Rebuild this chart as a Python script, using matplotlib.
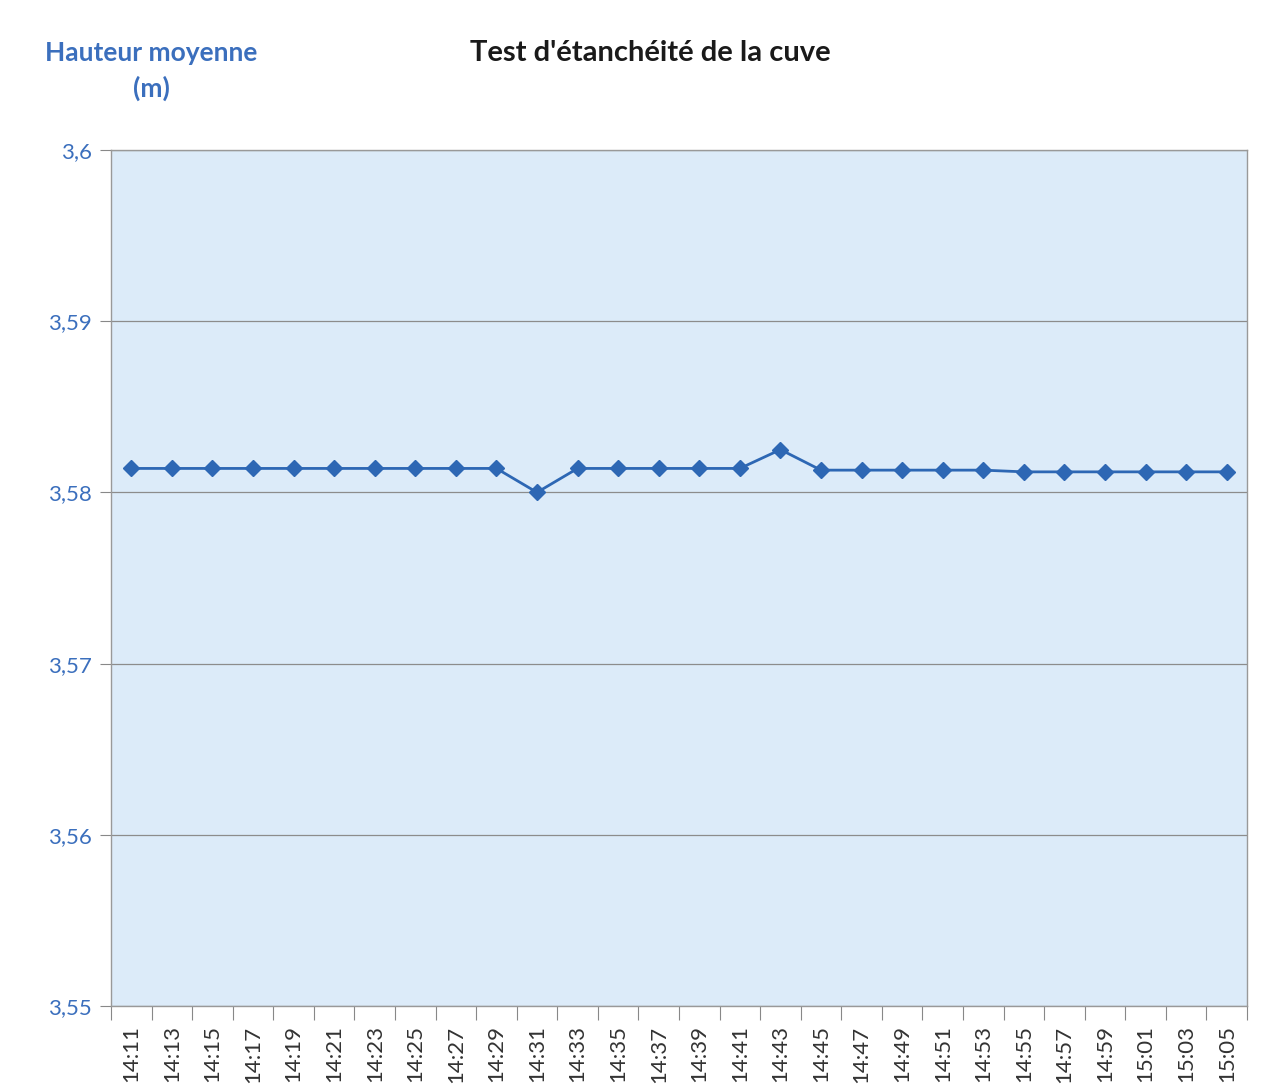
import matplotlib.pyplot as plt
import numpy as np

plt.rcParams['font.family'] = ['Lato', 'DejaVu Sans']

# relevés toutes les 2 minutes
heures = ['14:11', '14:13', '14:15', '14:17', '14:19', '14:21', '14:23', '14:25',
          '14:27', '14:29', '14:31', '14:33', '14:35', '14:37', '14:39', '14:41',
          '14:43', '14:45', '14:47', '14:49', '14:51', '14:53', '14:55', '14:57',
          '14:59', '15:01', '15:03', '15:05']
hauteur = [3.5814, 3.5814, 3.5814, 3.5814, 3.5814, 3.5814, 3.5814, 3.5814,
           3.5814, 3.5814, 3.5800, 3.5814, 3.5814, 3.5814, 3.5814, 3.5814,
           3.5825, 3.5813, 3.5813, 3.5813, 3.5813, 3.5813, 3.5812, 3.5812,
           3.5812, 3.5812, 3.5812, 3.5812]

bleu = '#2d67b4'
fig = plt.figure(figsize=(12.69, 10.87), dpi=100)
ax = fig.add_axes([111/1269, 1 - 1006/1087, 1136/1269, 856/1087])
ax.set_facecolor('#dcebf9')

x = np.arange(len(heures))
ax.plot(x, hauteur, color=bleu, lw=2, marker='D', ms=8, zorder=3)

ax.set_xlim(-0.5, len(heures) - 0.5)
ax.set_ylim(3.55, 3.6)
yt = [3.55, 3.56, 3.57, 3.58, 3.59, 3.6]
ax.set_yticks(yt)
ax.set_yticklabels(['3,55', '3,56', '3,57', '3,58', '3,59', '3,6'],
                   color='#3b6fbd', fontsize=16)
ax.yaxis.grid(True, color='#8c8c8c', lw=0.9)
ax.set_axisbelow(True)

# graduations entre les catégories, étiquettes au centre
ax.set_xticks(np.arange(len(heures) + 1) - 0.5)
ax.set_xticklabels([])
ax.set_xticks(x, minor=True)
ax.set_xticklabels(heures, minor=True, rotation=90, fontsize=16, color='#333333')
ax.tick_params(axis='x', which='minor', length=0, pad=14)
ax.tick_params(axis='x', which='major', length=10, color='#888888', direction='out')
ax.tick_params(axis='y', length=8, color='#888888', pad=6)

for s in ax.spines.values():
    s.set_color('#999999')
    s.set_linewidth(1)

fig.text(470/1269, 1 - 53/1087, "Test d'étanchéité de la cuve", fontsize=21,
         fontweight='bold', color='#1a1a1a', va='center', ha='left')
fig.text(151/1269, 1 - 53/1087, 'Hauteur moyenne', fontsize=19, fontweight='bold',
         color='#3b6fbd', va='center', ha='center')
fig.text(151/1269, 1 - 88/1087, '(m)', fontsize=19, fontweight='bold',
         color='#3b6fbd', va='center', ha='center')

fig.savefig('out.png', dpi=100)
